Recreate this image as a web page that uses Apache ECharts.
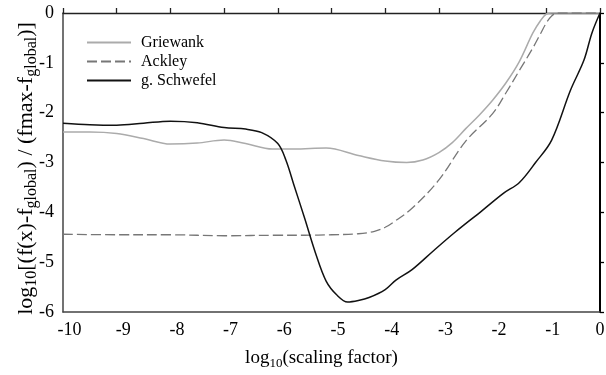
<!DOCTYPE html>
<html><head><meta charset="utf-8">
<script src="https://cdn.jsdelivr.net/npm/echarts@6/dist/echarts.min.js"></script>
<style>html,body{margin:0;padding:0;background:#fff}#c{width:606px;height:375px}</style>
</head><body><div id="c"></div>
<script>
const seriesNames = ['Griewank', 'Ackley', 'g. Schwefel'];

const griewankX = [-10, -9.5, -9.0, -8.5, -8.0, -7.5, -7.0, -6.6, -6.1, -5.7, -5.1, -4.5, -4.0, -3.6, -3.3, -3.0, -2.75, -2.5, -2.25, -2.0, -1.75, -1.5, -1.25, -1.1, -1.0, -0.9, -0.5, 0];
const griewankY = [-2.39, -2.39, -2.42, -2.52, -2.63, -2.61, -2.55, -2.62, -2.73, -2.73, -2.71, -2.86, -2.97, -3.0, -2.95, -2.8, -2.6, -2.32, -2.05, -1.75, -1.4, -0.97, -0.4, -0.14, -0.02, 0, 0, 0];

const ackleyX = [-10, -9, -8, -7, -6, -5.5, -5, -4.5, -4.2, -4.0, -3.85, -3.5, -3.0, -2.5, -2.0, -1.75, -1.5, -1.25, -1.1, -1.0, -0.9, -0.8, -0.5, 0];
const ackleyY = [-4.44, -4.45, -4.45, -4.47, -4.46, -4.46, -4.45, -4.43, -4.38, -4.3, -4.2, -3.92, -3.35, -2.57, -2.02, -1.6, -1.15, -0.7, -0.4, -0.2, -0.06, 0, 0, 0];

const schwefelX = [-10, -9.5, -9, -8.5, -8, -7.5, -7, -6.6, -6.3, -6.0, -5.85, -5.7, -5.5, -5.3, -5.1, -4.9, -4.7, -4.5, -4.3, -4.0, -3.8, -3.5, -3.1, -2.7, -2.2, -1.8, -1.5, -1.2, -0.9, -0.55, -0.3, -0.15, 0];
const schwefelY = [-2.21, -2.24, -2.25, -2.21, -2.17, -2.2, -2.3, -2.33, -2.4, -2.62, -2.95, -3.45, -4.12, -4.81, -5.38, -5.66, -5.8, -5.77, -5.71, -5.55, -5.36, -5.15, -4.77, -4.4, -3.97, -3.62, -3.4, -3.0, -2.55, -1.55, -0.95, -0.4, 0];

const xMin = -10, xMax = 0, yMin = -6, yMax = 0;

const FONT = 'Liberation Serif';
const pairs = (xs, ys) => xs.map((x, i) => [x, ys[i]]);

const chart = echarts.init(document.getElementById('c'), null, {renderer: 'canvas'});
chart.setOption({
  animation: false,
  backgroundColor: '#fff',
  grid: {left: 63, right: 6, top: 13, bottom: 63, containLabel: false, outerBoundsMode: 'none'},
  legend: {
    orient: 'vertical', left: 86, top: 33, padding: 0, itemWidth: 44, itemHeight: 12, itemGap: 0,
    data: seriesNames,
    itemStyle: {opacity: 0, color: 'rgba(0,0,0,0)', borderWidth: 0},
    textStyle: {fontFamily: FONT, fontSize: 16, color: '#000', lineHeight: 19, padding: [0, 0, 0, 5]}
  },
  xAxis: [{
    type: 'value', min: xMin, max: xMax, interval: 1, position: 'bottom',
    splitLine: {show: false},
    axisLine: {show: true, onZero: false, lineStyle: {color: '#444', width: 1.5}},
    axisTick: {show: false},
    axisLabel: {
      margin: 9, showMinLabel: true, showMaxLabel: true,
      formatter: v => v < 0 ? '{n|' + v + '}' : '{z|' + v + '}',
      rich: {
        n: {fontFamily: FONT, fontSize: 18, color: '#000', padding: [0, 0, 0, 13]},
        z: {fontFamily: FONT, fontSize: 18, color: '#000'}
      }
    },
    name: '{m|log}{s|10}{m|(scaling factor)}',
    nameLocation: 'middle', nameGap: 35, nameMoveOverlap: false,
    nameTextStyle: {
      padding: [0, 20, 0, 0],
      rich: {
        m: {fontFamily: FONT, fontSize: 19, color: '#000'},
        s: {fontFamily: FONT, fontSize: 13, color: '#000', padding: [10, 0, 0, 0]}
      }
    }
  }, {
    type: 'value', min: xMin, max: xMax, interval: 1, position: 'top',
    splitLine: {show: false},
    axisLine: {show: true, onZero: false, lineStyle: {color: '#222', width: 1.3}},
    axisTick: {show: true, inside: false, length: 5, lineStyle: {color: '#222', width: 1.3}},
    axisLabel: {show: false}
  }],
  yAxis: [{
    type: 'value', min: yMin, max: yMax, interval: 1, position: 'left',
    splitLine: {show: false},
    axisLine: {show: true, onZero: false, lineStyle: {color: '#444', width: 1.5}},
    axisTick: {show: false},
    axisLabel: {margin: 9, fontFamily: FONT, fontSize: 18, color: '#000', showMinLabel: true, showMaxLabel: true},
    name: '{m|log}{s|10}{m|[(f(x)-f}{s|global}{m|) / (fmax-f}{s|global}{m|)]}',
    nameLocation: 'middle', nameGap: 23, nameRotate: 90, nameMoveOverlap: false,
    nameTextStyle: {
      padding: [0, 12, 0, 0],
      rich: {
        m: {fontFamily: FONT, fontSize: 22, color: '#000'},
        s: {fontFamily: FONT, fontSize: 16, color: '#000', padding: [11, 0, 0, 0]}
      }
    }
  }, {
    type: 'value', min: yMin, max: yMax, interval: 1, position: 'right',
    splitLine: {show: false},
    axisLine: {show: true, onZero: false, lineStyle: {color: '#000', width: 2}},
    axisTick: {show: true, inside: false, length: 4, lineStyle: {color: '#000', width: 1.3}},
    axisLabel: {show: false}
  }],
  series: [{
    name: seriesNames[0], type: 'line', xAxisIndex: 0, yAxisIndex: 0,
    data: pairs(griewankX, griewankY), showSymbol: false, symbol: 'none', smooth: 0.35,
    lineStyle: {color: '#ababab', width: 1.5}, itemStyle: {color: '#ababab'}
  }, {
    name: seriesNames[1], type: 'line', xAxisIndex: 0, yAxisIndex: 0,
    data: pairs(ackleyX, ackleyY), showSymbol: false, symbol: 'none', smooth: 0.35,
    lineStyle: {color: '#777', width: 1.3, type: [10, 4]}, itemStyle: {color: '#777'}
  }, {
    name: seriesNames[2], type: 'line', xAxisIndex: 0, yAxisIndex: 0,
    data: pairs(schwefelX, schwefelY), showSymbol: false, symbol: 'none', smooth: 0.35,
    lineStyle: {color: '#111', width: 1.5}, itemStyle: {color: '#111'}
  }]
});
</script>
</body></html>
